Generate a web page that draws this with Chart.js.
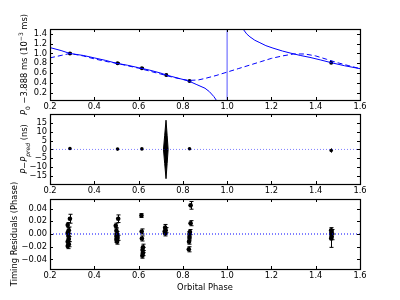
<!DOCTYPE html>
<html>
<head>
<meta charset="utf-8">
<script src="https://cdn.jsdelivr.net/npm/chart.js@4.4.0/dist/chart.umd.min.js"></script>
<style>
body { margin: 0; background: #fff; }
#wrap { position: relative; width: 400px; height: 300px; }
canvas { position: absolute; left: 0; top: 0; }
</style>
</head>
<body>
<div id="wrap">
  <canvas id="c1" style="width:400px;height:300px" width="400" height="300"></canvas>
  <canvas id="c2" style="width:400px;height:300px" width="400" height="300"></canvas>
  <canvas id="c3" style="width:400px;height:300px" width="400" height="300"></canvas>
</div>
<script>
// orbital phase axis (shared)
const phaseMin = 0.2, phaseMax = 1.6;
const phaseTicks = [0.2, 0.4, 0.6, 0.8, 1.0, 1.2, 1.4, 1.6];

// top panel: P0 - 3.888 ms (1e-3 ms)
const p0Min = 0.05, p0Max = 1.5;
const p0Ticks = [0.2, 0.4, 0.6, 0.8, 1.0, 1.2, 1.4];
const obsPhase = [0.29, 0.505, 0.615, 0.725, 0.83, 1.47];
const obsP0    = [1.00, 0.80, 0.70, 0.56, 0.44, 0.81];
const obsP0Err = [0.01, 0.01, 0.01, 0.015, 0.01, 0.01];
// solid model, left and right branches of the singularity
const fitLeftPhase  = [0.2, 0.25, 0.29, 0.35, 0.4, 0.45, 0.5, 0.55, 0.6, 0.65, 0.7, 0.725, 0.75, 0.8, 0.83, 0.86, 0.9, 0.92, 0.94, 0.955];
const fitLeftP0     = [1.12, 1.06, 1.00, 0.96, 0.91, 0.86, 0.80, 0.76, 0.71, 0.66, 0.60, 0.56, 0.53, 0.47, 0.43, 0.37, 0.29, 0.22, 0.12, 0.02];
const fitRightPhase = [1.068, 1.075, 1.088, 1.103, 1.125, 1.148, 1.175, 1.207, 1.25, 1.284, 1.33, 1.374, 1.42, 1.472, 1.53, 1.6];
const fitRightP0    = [1.56, 1.48, 1.40, 1.34, 1.27, 1.22, 1.16, 1.11, 1.05, 1.01, 0.96, 0.92, 0.87, 0.81, 0.75, 0.69];
const asymptotePhase = 1.0;
// dashed model
const altPhase = [0.2, 0.25, 0.29, 0.35, 0.4, 0.45, 0.5, 0.55, 0.6, 0.65, 0.7, 0.75, 0.8, 0.83, 0.87, 0.9, 0.95, 1.0, 1.05, 1.1, 1.15, 1.2, 1.25, 1.3, 1.35, 1.4, 1.45, 1.5, 1.55, 1.6];
const altP0    = [0.91, 0.96, 1.00, 0.95, 0.89, 0.84, 0.80, 0.75, 0.70, 0.64, 0.58, 0.52, 0.47, 0.45, 0.46, 0.49, 0.55, 0.62, 0.69, 0.76, 0.83, 0.90, 0.95, 0.99, 0.99, 0.95, 0.88, 0.81, 0.75, 0.69];

// middle panel: P - P_pred (ns)
const dpMin = -19.5, dpMax = 20;
const dpTicks = [-15, -10, -5, 0, 5, 10, 15];
const dpPhase = [0.29, 0.505, 0.615, 0.83, 1.47];
const dpNs    = [0.5, 0.2, 0.3, 0.4, -0.6];
const dpErr   = [0.6, 0.4, 0.4, 0.5, 1.2];
const spindlePhase = [0.724, 0.729, 0.7335, 0.729, 0.724, 0.718, 0.7125, 0.718];
const spindleNs    = [16.5, 8, 0, -8, -16.5, -8, 0, 8];

// bottom panel: timing residuals (phase)
const resMin = -0.055, resMax = 0.055;
const resTicks = [-0.04, -0.02, 0.00, 0.02, 0.04];
const resPhase = [0.29, 0.28, 0.285, 0.28, 0.283, 0.285, 0.28, 0.285, 0.28,
                  0.508, 0.497, 0.5, 0.503, 0.5, 0.505, 0.5, 0.503,
                  0.613, 0.614, 0.615, 0.62, 0.618, 0.62, 0.617,
                  0.72, 0.722, 0.718, 0.72,
                  0.835, 0.835, 0.832, 0.83, 0.83, 0.828, 0.827,
                  1.47, 1.472, 1.47, 1.472, 1.47];
const resVal   = [0.024, 0.014, 0.006, 0.002, -0.003, -0.008, -0.012, -0.016, -0.019,
                  0.024, 0.013, 0.005, 0.000, -0.003, -0.006, -0.009, -0.012,
                  0.029, 0.004, -0.007, -0.021, -0.025, -0.030, -0.034,
                  0.010, 0.006, 0.004, 0.001,
                  0.045, 0.017, 0.003, 0.000, -0.006, -0.012, -0.024,
                  0.006, 0.003, 0.000, -0.004, -0.007];
const resErr   = [0.007, 0.004, 0.005, 0.004, 0.005, 0.004, 0.004, 0.004, 0.004,
                  0.006, 0.004, 0.005, 0.004, 0.004, 0.004, 0.004, 0.004,
                  0.003, 0.004, 0.004, 0.005, 0.004, 0.004, 0.004,
                  0.005, 0.004, 0.004, 0.004,
                  0.006, 0.004, 0.004, 0.004, 0.004, 0.004, 0.004,
                  0.004, 0.004, 0.005, 0.005, 0.014];
const zeroLevel = 0;

const FONT = 'DejaVu Sans';
const FS = 8.33;
const BLUE = '#0000ff';

const pts = (xs, ys) => xs.map((x, i) => ({ x: x, y: ys[i] }));
const minus = s => String(s).replace('-', '\u2212');

// frame, inward ticks, error bars, filled polygons, rotated y title
const panelDeco = {
    id: 'panelDeco',
    beforeDatasetsDraw(chart) {
        const ctx = chart.ctx;
        const ys = chart.scales.y;
        ctx.save();
        ctx.strokeStyle = '#000';
        ctx.fillStyle = '#000';
        ctx.lineWidth = 1;
        chart.data.datasets.forEach((ds, i) => {
            const els = chart.getDatasetMeta(i).data;
            if (ds.polygon) {
                ctx.beginPath();
                els.forEach((el, j) => j ? ctx.lineTo(el.x, el.y) : ctx.moveTo(el.x, el.y));
                ctx.closePath();
                ctx.fill();
                ctx.stroke();
            }
            if (!ds.errorBars) return;
            els.forEach((el, j) => {
                const v = ds.data[j].y, e = ds.errorBars[j];
                const y1 = ys.getPixelForValue(v - e), y2 = ys.getPixelForValue(v + e);
                const x = Math.round(el.x) + 0.5;
                ctx.beginPath();
                ctx.moveTo(x, y1); ctx.lineTo(x, y2);
                if (ds.capSize) {
                    ctx.moveTo(x - ds.capSize, y1); ctx.lineTo(x + ds.capSize, y1);
                    ctx.moveTo(x - ds.capSize, y2); ctx.lineTo(x + ds.capSize, y2);
                }
                ctx.stroke();
            });
        });
        ctx.restore();
    },
    afterDraw(chart, args, opts) {
        const { ctx, chartArea: a, scales } = chart;
        ctx.save();
        ctx.strokeStyle = '#000';
        ctx.lineWidth = 1;
        ctx.beginPath();
        scales.x.ticks.forEach(t => {
            const x = Math.round(scales.x.getPixelForValue(t.value)) + 0.5;
            ctx.moveTo(x, a.bottom); ctx.lineTo(x, a.bottom - 3);
            ctx.moveTo(x, a.top); ctx.lineTo(x, a.top + 3);
        });
        scales.y.ticks.forEach(t => {
            const y = Math.round(scales.y.getPixelForValue(t.value)) + 0.5;
            ctx.moveTo(a.left, y); ctx.lineTo(a.left + 3, y);
            ctx.moveTo(a.right, y); ctx.lineTo(a.right - 3, y);
        });
        ctx.stroke();
        ctx.lineWidth = 1.2;
        ctx.strokeRect(Math.round(a.left) + 0.5, Math.round(a.top) + 0.5,
                       Math.round(a.right - a.left), Math.round(a.bottom - a.top));

        // rotated y-axis title with sub/superscripts
        const parts = opts.parts || [];
        const small = 6;
        const fontOf = p => (p.it ? 'italic ' : '') + ((p.sub || p.sup) ? small : FS) + 'px "' + FONT + '"';
        let total = 0;
        parts.forEach(p => { ctx.font = fontOf(p); p.w = ctx.measureText(p.t).width; total += p.w; });
        ctx.translate(opts.x, (a.top + a.bottom) / 2);
        ctx.rotate(-Math.PI / 2);
        ctx.fillStyle = '#000';
        ctx.textBaseline = 'middle';
        let cx = -total / 2;
        parts.forEach(p => {
            ctx.font = fontOf(p);
            const dy = p.sub ? 3 : (p.sup ? -3.5 : 0);
            ctx.fillText(p.t, cx, dy);
            cx += p.w;
        });
        ctx.restore();
    }
};

const baseOptions = (yMin, yMax, yTicks, yFmt, padTop, padBottom, xHeight, xTitle) => ({
    responsive: false,
    animation: false,
    events: [],
    layout: { padding: { left: 0, right: 40, top: padTop, bottom: padBottom } },
    plugins: { legend: { display: false }, tooltip: { enabled: false } },
    scales: {
        x: {
            type: 'linear', min: phaseMin, max: phaseMax,
            grid: { display: false, drawTicks: false },
            border: { display: false },
            afterBuildTicks: s => { s.ticks = phaseTicks.map(v => ({ value: v })); },
            afterFit: s => { s.height = xHeight; },
            ticks: { color: '#000', padding: 2, maxRotation: 0, autoSkip: false, font: { family: FONT, size: FS },
                     callback: v => v.toFixed(1) },
            title: xTitle ? { display: true, text: xTitle, color: '#000',
                              font: { family: FONT, size: FS }, padding: { top: 0, bottom: 7 } } : { display: false }
        },
        y: {
            type: 'linear', min: yMin, max: yMax,
            grid: { display: false, drawTicks: false },
            border: { display: false },
            afterBuildTicks: s => { s.ticks = yTicks.map(v => ({ value: v })); },
            afterFit: s => { s.width = 50; },
            ticks: { color: '#000', padding: 3, autoSkip: false, font: { family: FONT, size: FS }, callback: yFmt }
        }
    }
});

// top panel: plot area 29..100
const opt1 = baseOptions(p0Min, p0Max, p0Ticks, v => v.toFixed(1), 29, 188, 12, null);
opt1.plugins.panelDeco = { x: 25, parts: [
    { t: 'P', it: true }, { t: '0', sub: true }, { t: ' \u22123.888 ms (10' }, { t: '\u22123', sup: true }, { t: ' ms)' }] };
new Chart(document.getElementById('c1').getContext('2d'), {
    type: 'scatter',
    data: {
        datasets: [
            { data: pts(fitLeftPhase, fitLeftP0), showLine: true, borderColor: BLUE, borderWidth: 1, pointRadius: 0 },
            { data: pts(fitRightPhase, fitRightP0), showLine: true, borderColor: BLUE, borderWidth: 1, pointRadius: 0 },
            { data: [{ x: asymptotePhase, y: p0Min }, { x: asymptotePhase, y: p0Max }], showLine: true,
              borderColor: 'rgba(0,0,255,0.45)', borderWidth: 1.5, pointRadius: 0 },
            { data: pts(altPhase, altP0), showLine: true, borderColor: BLUE, borderWidth: 1, borderDash: [5, 3], pointRadius: 0 },
            { data: pts(obsPhase, obsP0), errorBars: obsP0Err, capSize: 1.5, showLine: false,
              pointRadius: 2, backgroundColor: '#000', borderColor: '#000', borderWidth: 0 }
        ]
    },
    options: opt1,
    plugins: [panelDeco]
});

// middle panel: plot area 114..184
const opt2 = baseOptions(dpMin, dpMax, dpTicks, v => minus(v), 114, 104, 12, null);
opt2.plugins.panelDeco = { x: 25, parts: [
    { t: 'P', it: true }, { t: '\u2212' }, { t: 'P', it: true }, { t: 'pred', it: true, sub: true }, { t: ' (ns)' }] };
new Chart(document.getElementById('c2').getContext('2d'), {
    type: 'scatter',
    data: {
        datasets: [
            { data: [{ x: phaseMin, y: zeroLevel }, { x: phaseMax, y: zeroLevel }], showLine: true,
              borderColor: 'rgba(0,0,255,0.5)', borderWidth: 1, borderDash: [1, 2], pointRadius: 0 },
            { data: pts(spindlePhase, spindleNs), polygon: true, showLine: false, pointRadius: 0 },
            { data: pts(dpPhase, dpNs), errorBars: dpErr, capSize: 0, showLine: false,
              pointRadius: 1.8, backgroundColor: '#000', borderColor: '#000', borderWidth: 0 }
        ]
    },
    options: opt2,
    plugins: [panelDeco]
});

// bottom panel: plot area 199..269
const opt3 = baseOptions(resMin, resMax, resTicks, v => minus(v.toFixed(2)), 199, 0, 31, 'Orbital Phase');
opt3.plugins.panelDeco = { x: 15, parts: [{ t: 'Timing Residuals (Phase)' }] };
new Chart(document.getElementById('c3').getContext('2d'), {
    type: 'scatter',
    data: {
        datasets: [
            { data: [{ x: phaseMin, y: zeroLevel }, { x: phaseMax, y: zeroLevel }], showLine: true,
              borderColor: BLUE, borderWidth: 1, borderDash: [1, 2], pointRadius: 0 },
            { data: pts(resPhase, resVal), errorBars: resErr, capSize: 2, showLine: false,
              pointRadius: 2.3, backgroundColor: '#000', borderColor: '#000', borderWidth: 0 }
        ]
    },
    options: opt3,
    plugins: [panelDeco]
});
</script>
</body>
</html>
